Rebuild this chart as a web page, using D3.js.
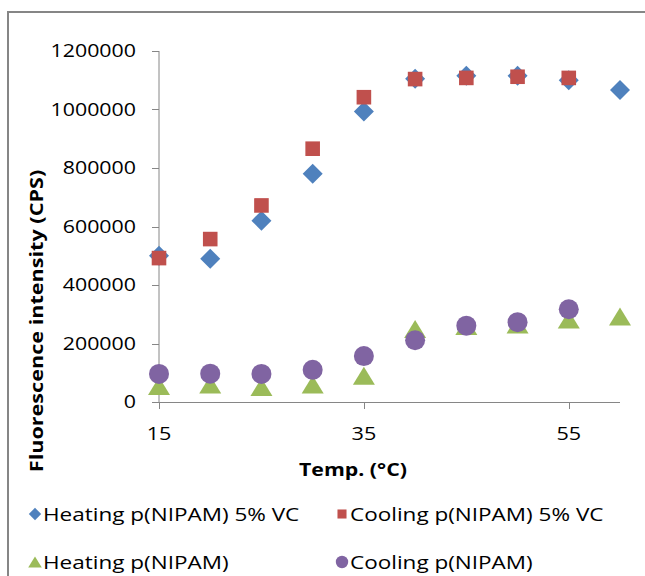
<!DOCTYPE html>
<html>
<head>
<meta charset="utf-8">
<script src="https://cdn.jsdelivr.net/npm/d3@7"></script>
<style>
  body { margin: 0; background: #fff; }
  text { font-family: "Open Sans", sans-serif; fill: #000; }
</style>
</head>
<body>
<svg width="645" height="576"></svg>
<script>
// temperatures (°C)
const temps = [15, 20, 25, 30, 35, 40, 45, 50, 55, 60];
const heatingVC = [500000, 490000, 620000, 780000, 993000, 1105000, 1115000, 1115000, 1100000, 1067000];
const coolingVC = [492000, 557000, 672000, 866000, 1042000, 1104000, 1108000, 1112000, 1108000, null];
const heatingP = [55000, 60000, 51000, 60000, 90000, 250000, 260000, 265000, 282000, 292000];
const coolingP = [96000, 97000, 96000, 110000, 157000, 211000, 261000, 273000, 317000, null];
const xTicks = [15, 35, 55];
const yTicks = [0, 200000, 400000, 600000, 800000, 1000000, 1200000];

const seriesList = [
  { name: "Heating p(NIPAM) 5% VC", values: heatingVC, color: "#4F81BD", shape: "diamond" },
  { name: "Cooling p(NIPAM) 5% VC", values: coolingVC, color: "#C0504D", shape: "square" },
  { name: "Heating p(NIPAM)", values: heatingP, color: "#9BBB59", shape: "triangle" },
  { name: "Cooling p(NIPAM)", values: coolingP, color: "#8064A2", shape: "circle" }
];

const svg = d3.select("svg");

// the picture's text is a bit wider than Open Sans, stretch it
function stretch(sel, k) {
  sel.each(function () {
    const w = this.getComputedTextLength();
    d3.select(this)
      .attr("textLength", w * k)
      .attr("lengthAdjust", "spacingAndGlyphs");
  });
}

// outer chart frame
svg.append("rect")
  .attr("x", 8).attr("y", 12)
  .attr("width", 700).attr("height", 620)
  .attr("fill", "none")
  .attr("stroke", "#868686")
  .attr("stroke-width", 2);

const x = d3.scaleLinear().domain([15, 60]).range([159, 620]);
const y = d3.scaleLinear().domain([0, 1200000]).range([402, 51]);

function markerPath(shape, s) {
  if (shape === "diamond") {
    const r = 10 * s;
    return `M0,${-r}L${r},0L0,${r}L${-r},0Z`;
  }
  if (shape === "square") {
    const h = 7.3 * s;
    return `M${-h},${-h}H${h}V${h}H${-h}Z`;
  }
  if (shape === "triangle") {
    const w = 11 * s, h = 9 * s;
    return `M0,${-h}L${w},${h}L${-w},${h}Z`;
  }
  const r = 10 * s;
  return `M${r},0A${r},${r} 0 1,1 ${-r},0A${r},${r} 0 1,1 ${r},0Z`;
}

// axes
const axisColor = "#868686";
const g = svg.append("g");

g.append("line")
  .attr("x1", x(15)).attr("x2", x(15))
  .attr("y1", y(1200000)).attr("y2", y(0))
  .attr("stroke", axisColor);
g.append("line")
  .attr("x1", x(15) - 7).attr("x2", x(60))
  .attr("y1", y(0) + 0.5).attr("y2", y(0) + 0.5)
  .attr("stroke", axisColor);

g.selectAll(".ytick")
  .data(yTicks)
  .join("line")
  .attr("x1", x(15) - 7).attr("x2", x(15))
  .attr("y1", (d) => Math.round(y(d)) + 0.5)
  .attr("y2", (d) => Math.round(y(d)) + 0.5)
  .attr("stroke", axisColor);

g.selectAll(".ylab")
  .data(yTicks)
  .join("text")
  .attr("x", 136)
  .attr("y", (d) => y(d))
  .attr("dy", "0.36em")
  .attr("text-anchor", "end")
  .style("font-size", "17.5px")
  .text((d) => d)
  .call(stretch, 1.22);

g.selectAll(".xtick")
  .data(xTicks)
  .join("line")
  .attr("x1", (d) => Math.round(x(d)) + 0.5)
  .attr("x2", (d) => Math.round(x(d)) + 0.5)
  .attr("y1", y(0)).attr("y2", y(0) + 7)
  .attr("stroke", axisColor);

g.selectAll(".xlab")
  .data(xTicks)
  .join("text")
  .attr("x", (d) => x(d))
  .attr("y", 440)
  .attr("text-anchor", "middle")
  .style("font-size", "18px")
  .text((d) => d)
  .call(stretch, 1.2);

// axis titles
svg.append("text")
  .attr("transform", "translate(43,321) rotate(-90)")
  .attr("text-anchor", "middle")
  .style("font-size", "18px")
  .style("font-weight", "bold")
  .text("Fluorescence intensity (CPS)")
  .call(stretch, 1.2);

svg.append("text")
  .attr("x", 353).attr("y", 476)
  .attr("text-anchor", "middle")
  .style("font-size", "18.5px")
  .style("font-weight", "bold")
  .text("Temp. (°C)")
  .call(stretch, 1.15);

// markers
seriesList.forEach((s) => {
  const pts = temps
    .map((t, i) => ({ t, v: s.values[i] }))
    .filter((d) => d.v != null);
  svg.append("g")
    .selectAll("path")
    .data(pts)
    .join("path")
    .attr("transform", (d) => `translate(${x(d.t)},${y(d.v)})`)
    .attr("d", markerPath(s.shape, 1))
    .attr("fill", s.color);
});

// legend
const legendPos = [
  [35, 514], [342, 514], [35, 562], [342, 562]
];
const legend = svg.append("g");
seriesList.forEach((s, i) => {
  const [lx, ly] = legendPos[i];
  legend.append("path")
    .attr("transform", `translate(${lx},${ly})`)
    .attr("d", markerPath(s.shape, 0.62))
    .attr("fill", s.color);
  legend.append("text")
    .attr("x", lx + 8)
    .attr("y", ly + 7)
    .style("font-size", "18px")
    .text(s.name)
    .call(stretch, 1.25);
});
</script>
</body>
</html>
